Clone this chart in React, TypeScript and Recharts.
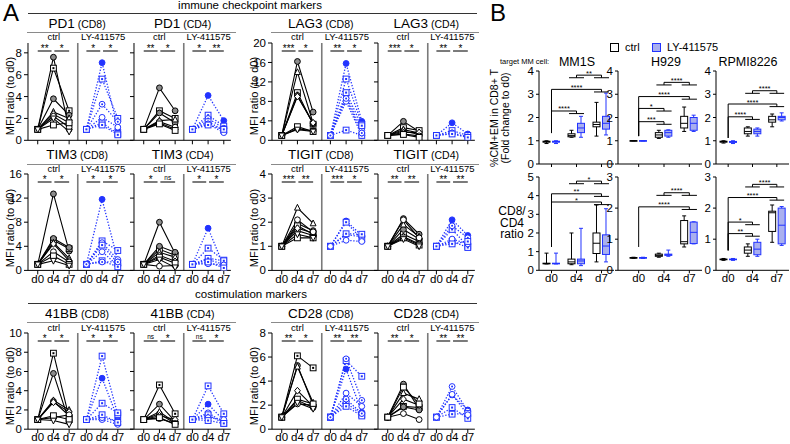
import React from "react";
import { LineChart, Line, XAxis, YAxis, ReferenceLine, ComposedChart, Bar } from "recharts";

const FONT = "'Liberation Sans', Arial, Helvetica, sans-serif";
const BLUE = "#2233ff";
const DAYS = ["d0", "d4", "d7"];

// ---------- panel A data: one triple [d0, d4, d7] per donor ----------
const PD1_TICKS = [0, 2, 4, 6, 8];
const PD1_CD8_CTRL = [[1, 7.6, 1.0], [1, 6.6, 2.7], [1, 3.8, 2.3], [1, 2.6, 2.0], [1, 2.4, 1.6], [1, 2.2, 1.2], [1, 1.4, 1.6], [1, 2.0, 0.8]];
const PD1_CD8_LY = [[1, 7.1, 1.0], [1, 5.6, 2.0], [1, 3.3, 1.7], [1, 1.6, 0.6], [1, 2.1, 1.2], [1, 1.4, 0.5]];
const PD1_CD4_CTRL = [[1, 4.8, 2.7], [1, 2.7, 2.0], [1, 2.5, 1.6], [1, 1.8, 1.9], [1, 1.6, 1.0], [1, 1.7, 1.2], [1, 1.5, 0.9]];
const PD1_CD4_LY = [[1, 4.1, 1.8], [1, 2.3, 1.3], [1, 2.0, 1.1], [1, 1.7, 0.9], [1, 1.5, 0.7], [1, 1.4, 1.0]];
const PD1_CD8_SIG = ["**", "*", "*", "*"];
const PD1_CD4_SIG = ["**", "*", "*", "**"];

const LAG3_TICKS = [0, 4, 8, 12, 16, 20];
const LAG3_CD8_CTRL = [[1, 16.2, 5.8], [1, 9.8, 3.3], [1, 9.2, 3.4], [1, 14.0, 3.5], [1, 9.0, 3.6], [1, 2.4, 1.9], [1, 2.8, 1.8], [1, 2.2, 1.8]];
const LAG3_CD8_LY = [[1, 15.8, 3.9], [1, 12.6, 3.3], [1, 9.2, 2.0], [1, 9.8, 3.0], [1, 8.0, 1.0], [1, 2.1, 1.0], [1, 8.6, 1.5]];
const LAG3_CD4_CTRL = [[1, 3.9, 1.8], [1, 2.6, 2.0], [1, 1.9, 1.2], [1, 2.2, 1.5], [1, 1.6, 1.6], [1, 1.3, 0.9], [1, 1.2, 0.6]];
const LAG3_CD4_LY = [[1, 3.6, 1.3], [1, 2.0, 1.0], [1, 1.5, 0.7], [1, 1.3, 0.6]];
const LAG3_CD8_SIG = ["***", "*", "**", "*"];
const LAG3_CD4_SIG = ["***", "*", "**", "*"];

const TIM3_TICKS = [0, 4, 8, 12, 16];
const TIM3_CD8_CTRL = [[1, 12.7, 3.2], [1, 5.0, 3.6], [1, 5.3, 3.8], [1, 4.6, 2.0], [1, 4.4, 1.6], [1, 3.1, 1.4], [1, 2.4, 1.0], [1, 1.6, 0.8]];
const TIM3_CD8_LY = [[1, 11.8, 1.6], [1, 4.9, 3.3], [1, 4.6, 1.8], [1, 4.2, 1.2], [1, 3.1, 0.8], [1, 1.6, 0.6], [1, 1.4, 1.4]];
const TIM3_CD4_CTRL = [[1, 8.0, 2.8], [1, 3.5, 2.5], [1, 4.0, 3.0], [1, 3.0, 2.2], [1, 2.5, 1.5], [1, 0.7, 0.8], [1, 2.2, 1.2], [1, 1.8, 0.5]];
const TIM3_CD4_LY = [[1, 7.0, 0.7], [1, 3.7, 1.7], [1, 1.8, 1.0], [1, 2.0, 1.6], [1, 1.1, 0.9], [1, 1.4, 0.4]];
const TIM3_CD8_SIG = ["*", "*", "*", "*"];
const TIM3_CD4_SIG = ["*", "ns", "*", "*"];

const TIGIT_TICKS = [0, 1, 2, 3, 4];
const TIGIT_CD8_CTRL = [[1, 1.95, 1.65], [1, 1.85, 1.5], [1, 1.65, 1.45], [1, 2.6, 1.95], [1, 1.75, 1.55], [1, 2.1, 1.6], [1, 1.35, 1.35], [1, 1.5, 1.35]];
const TIGIT_CD8_LY = [[1, 2.05, 1.45], [1, 2.0, 1.3], [1, 1.48, 1.4], [1, 1.52, 1.5], [1, 1.25, 1.2]];
const TIGIT_CD4_CTRL = [[1, 2.15, 1.5], [1, 1.5, 1.2], [1, 1.7, 1.3], [1, 1.9, 1.4], [1, 1.4, 1.1], [1, 2.1, 1.35], [1, 1.35, 1.05], [1, 1.3, 1.0]];
const TIGIT_CD4_LY = [[1, 2.1, 1.45], [1, 1.7, 1.0], [1, 1.85, 1.35], [1, 1.2, 0.95], [1, 1.3, 1.1], [1, 1.1, 1.2]];
const TIGIT_CD8_SIG = ["***", "**", "***", "*"];
const TIGIT_CD4_SIG = ["**", "**", "**", "**"];

const BB41_TICKS = [0, 2, 4, 6, 8, 10];
const BB41_CD8_CTRL = [[1, 5.8, 0.8], [1, 7.9, 1.2], [1, 2.9, 1.4], [1, 3.0, 2.0], [1, 2.8, 1.8], [1, 1.2, 1.5], [1, 1.4, 1.0], [1, 0.9, 0.5]];
const BB41_CD8_LY = [[1, 5.3, 1.1], [1, 7.6, 1.5], [1, 1.0, 0.5], [1, 2.7, 1.7], [1, 1.2, 0.8], [1, 1.5, 0.7]];
const BB41_CD4_CTRL = [[1, 2.6, 0.8], [1, 4.6, 1.6], [1, 1.6, 0.6], [1, 1.8, 0.7], [1, 1.4, 1.0], [1, 1.1, 0.6], [1, 1.2, 0.5]];
const BB41_CD4_LY = [[1, 2.6, 0.9], [1, 4.5, 1.6], [1, 1.7, 0.7], [1, 1.5, 0.6], [1, 1.2, 1.0], [1, 0.9, 0.6]];
const BB41_CD8_SIG = ["*", "*", "*", "*"];
const BB41_CD4_SIG = ["ns", "*", "ns", "*"];

const CD28_TICKS = [0, 2, 4, 6, 8];
const CD28_CD8_CTRL = [[1, 5.3, 2.0], [1, 6.1, 5.1], [1, 2.4, 1.8], [1, 5.2, 2.2], [1, 3.2, 1.9], [1, 2.1, 2.0], [1, 2.5, 2.1], [1, 2.2, 1.7]];
const CD28_CD8_LY = [[1, 5.0, 1.4], [1, 5.7, 4.4], [1, 5.85, 2.4], [1, 2.2, 1.2], [1, 3.0, 1.9], [1, 1.9, 1.1], [1, 2.5, 1.3]];
const CD28_CD4_CTRL = [[1, 3.75, 1.7], [1, 1.9, 1.8], [1, 1.85, 1.6], [1, 3.0, 2.5], [1, 2.5, 2.0], [1, 1.3, 0.8], [1, 3.5, 2.1]];
const CD28_CD4_LY = [[1, 2.85, 1.6], [1, 1.8, 0.9], [1, 3.55, 1.5], [1, 1.25, 1.3], [1, 2.9, 1.2]];
const CD28_CD8_SIG = ["**", "*", "**", "**"];
const CD28_CD4_SIG = ["**", "*", "**", "**"];

const CTRL_SHAPES = ["gc", "sq", "gc", "tri", "dia", "oc", "osq", "trd"];
const LY_SHAPES = ["fc", "sq", "dc", "sq", "oc", "sq", "dc"];

// ---------- panel B data: [min, q1, median, q3, max] for d0, d4, d7 ----------
const MM1S_PCT_CTRL = [[0.88, 0.94, 0.96, 0.98, 1.0], [1.15, 1.17, 1.22, 1.3, 1.45], [1.2, 1.6, 1.7, 1.8, 2.65]];
const MM1S_PCT_LY = [[0.88, 0.94, 0.96, 0.98, 1.0], [1.15, 1.35, 1.55, 1.75, 2.05], [1.25, 1.5, 1.75, 2.05, 3.05]];
const H929_PCT_CTRL = [[0.99, 0.995, 1.0, 1.005, 1.01], [1.1, 1.15, 1.25, 1.35, 1.45], [1.4, 1.55, 1.75, 2.05, 2.45]];
const H929_PCT_LY = [[0.99, 0.995, 1.0, 1.005, 1.01], [1.15, 1.2, 1.35, 1.45, 1.47], [1.4, 1.45, 1.75, 2.0, 2.1]];
const RPMI_PCT_CTRL = [[0.9, 0.94, 0.96, 0.98, 1.0], [1.2, 1.3, 1.4, 1.55, 1.6], [1.6, 1.8, 1.9, 2.05, 2.15]];
const RPMI_PCT_LY = [[0.88, 0.93, 0.95, 0.97, 1.0], [1.2, 1.3, 1.4, 1.5, 1.55], [1.85, 1.9, 2.0, 2.05, 2.2]];

const MM1S_RATIO_CTRL = [[0.34, 0.35, 0.36, 0.38, 0.92], [0.3, 0.35, 0.45, 0.6, 2.0], [0.45, 0.9, 1.45, 2.0, 3.5]];
const MM1S_RATIO_LY = [[0.34, 0.35, 0.36, 0.38, 0.92], [0.25, 0.35, 0.5, 0.6, 2.25], [0.45, 0.85, 1.3, 1.9, 3.3]];
const H929_RATIO_CTRL = [[0.38, 0.39, 0.4, 0.41, 0.42], [0.42, 0.45, 0.48, 0.52, 0.55], [0.75, 0.85, 0.92, 1.6, 1.75]];
const H929_RATIO_LY = [[0.38, 0.39, 0.4, 0.41, 0.42], [0.45, 0.48, 0.5, 0.52, 0.65], [0.85, 0.86, 1.22, 1.55, 1.56]];
const RPMI_RATIO_CTRL = [[0.32, 0.34, 0.35, 0.36, 0.38], [0.45, 0.55, 0.65, 0.75, 0.85], [0.9, 1.25, 1.85, 1.9, 2.1]];
const RPMI_RATIO_LY = [[0.32, 0.34, 0.35, 0.36, 0.38], [0.45, 0.5, 0.68, 0.9, 1.0], [0.8, 0.85, 1.45, 2.0, 2.05]];

// brackets: [from, to, y, label, y0]; from = -1 means "pair" bracket between groups to-1 and to
const MM1S_PCT_SIG: any[] = [[0, 1, 2.28, "****", 1.33], [0, 2, 3.21, "****", 1.33], [-1, 2, 3.71, "**", 1]];
const H929_PCT_SIG: any[] = [[0, 1, 1.82, "***", 1.2], [0, 1, 2.39, "*", 1.2], [0, 2, 2.9, "****", 1.2], [-1, 2, 3.4, "****", 1]];
const RPMI_PCT_SIG: any[] = [[0, 1, 2.03, "****", 1.12], [0, 2, 2.58, "****", 1.12], [-1, 2, 3.04, "****", 1]];
const MM1S_RATIO_SIG: any[] = [[0, 2, 3.66, "*", 1.25], [0, 2, 4.1, "**", 1.25], [-1, 2, 4.64, "*", 1]];
const H929_RATIO_SIG: any[] = [[0, 2, 2.04, "****", 0.75], [-1, 2, 2.41, "****", 1]];
const RPMI_RATIO_SIG: any[] = [[0, 1, 1.18, "**", 0.64], [0, 1, 1.55, "*", 0.64], [0, 2, 2.34, "****", 0.64], [-1, 2, 2.68, "****", 1]];

// ---------- helpers ----------
const PX = 15.7;
const X_MIN = -0.62;
const X_CTRL = [0, 1, 2];
const X_LY = [3.1, 4.1, 5.1];
const TICK_POS = [...X_CTRL, ...X_LY];
const DIVIDER = 2.55;

function buildRows(ctrl: number[][], ly: number[][]) {
  const rows: any[] = [];
  X_CTRL.forEach((x, i) => {
    const r: any = { x };
    ctrl.forEach((d, k) => (r["c" + k] = d[i]));
    rows.push(r);
  });
  X_LY.forEach((x, i) => {
    const r: any = { x };
    ly.forEach((d, k) => (r["l" + k] = d[i]));
    rows.push(r);
  });
  return rows;
}

function marker(shape: string, color: string) {
  return (p: any) => {
    const { cx, cy, index, dataKey } = p;
    const key = `${dataKey}-${index}`;
    if (cx == null || cy == null || Number.isNaN(cy)) return <g key={key} />;
    const s = 2.9;
    const common = { stroke: color, strokeWidth: 1 };
    switch (shape) {
      case "gc":
        return <circle key={key} cx={cx} cy={cy} r={s} fill="#8c8c8c" {...common} />;
      case "fc":
        return <circle key={key} cx={cx} cy={cy} r={s} fill={color} {...common} />;
      case "oc":
        return <circle key={key} cx={cx} cy={cy} r={s} fill="#fff" {...common} />;
      case "dc":
        return (
          <g key={key}>
            <circle cx={cx} cy={cy} r={s} fill="#fff" {...common} />
            <circle cx={cx} cy={cy} r={1} fill={color} />
          </g>
        );
      case "sq":
        return (
          <g key={key}>
            <rect x={cx - s} y={cy - s} width={2 * s} height={2 * s} fill="#fff" {...common} />
            <rect x={cx - 1} y={cy - 1} width={2} height={2} fill={color} />
          </g>
        );
      case "osq":
        return <rect key={key} x={cx - s} y={cy - s} width={2 * s} height={2 * s} fill="#fff" {...common} />;
      case "tri":
        return <polygon key={key} points={`${cx},${cy - s - 0.5} ${cx - s},${cy + s - 0.5} ${cx + s},${cy + s - 0.5}`} fill="#fff" {...common} />;
      case "trd":
        return <polygon key={key} points={`${cx},${cy + s + 0.5} ${cx - s},${cy - s + 0.5} ${cx + s},${cy - s + 0.5}`} fill="#fff" {...common} />;
      default:
        return <polygon key={key} points={`${cx},${cy - s - 0.5} ${cx + s},${cy} ${cx},${cy + s + 0.5} ${cx - s},${cy}`} fill="#fff" {...common} />;
    }
  };
}

function Txt({ x, y, size = 11, children, anchor = "middle", color = "#000", lh }: any) {
  const tx = anchor === "middle" ? "-50%" : anchor === "end" ? "-100%" : "0";
  return (
    <div
      style={{
        position: "absolute",
        left: x,
        top: y,
        transform: `translate(${tx}, -50%)`,
        fontSize: size,
        color,
        whiteSpace: "pre",
        lineHeight: lh ? `${lh}px` : "1",
        textAlign: "center",
      }}
    >
      {children}
    </div>
  );
}

function RotTxt({ x, y, size = 11, children, lh }: any) {
  return (
    <div
      style={{
        position: "absolute",
        left: x,
        top: y,
        transform: "translate(-50%, -50%) rotate(-90deg)",
        fontSize: size,
        whiteSpace: "pre",
        lineHeight: lh ? `${lh}px` : "1",
        textAlign: "center",
      }}
    >
      {children}
    </div>
  );
}

function AChart({ axisX, plotTop, plotH, yMax, ticks, xMax, ctrl, ly, sig, showY, showX }: any) {
  const yW = showY ? 24 : 5;
  const MT = 8;
  const plotW = (xMax - X_MIN) * PX;
  const rows = buildRows(ctrl, ly);
  const ySig = yMax * (1 - 8 / plotH);
  const segs = [
    [X_CTRL[0], X_CTRL[0] + 0.88, sig[0]],
    [X_CTRL[1] + 0.06, X_CTRL[2], sig[1]],
    [X_LY[0], X_LY[0] + 0.88, sig[2]],
    [X_LY[1] + 0.06, X_LY[2], sig[3]],
  ];
  const axisStyle = { fill: "#000", fontSize: 11.5, fontFamily: FONT };
  return (
    <div style={{ position: "absolute", left: axisX - yW, top: plotTop - MT }}>
      <LineChart width={yW + plotW + 2} height={MT + plotH + 15} data={rows} margin={{ top: MT, right: 2, bottom: 0, left: 0 }}>
        <XAxis
          dataKey="x"
          type="number"
          domain={[X_MIN, xMax]}
          ticks={TICK_POS}
          allowDataOverflow
          height={15}
          tickSize={4}
          tickMargin={0}
          stroke="#000"
          tick={axisStyle}
          interval={0}
          tickFormatter={(v: number) => (showX ? DAYS[TICK_POS.indexOf(v) % 3] : "")}
        />
        <YAxis
          type="number"
          domain={[0, yMax]}
          ticks={ticks}
          allowDataOverflow
          width={yW}
          tickSize={4}
          stroke="#000"
          tick={axisStyle}
          interval={0}
          tickFormatter={(v: number) => (showY ? String(v) : "")}
        />
        <ReferenceLine x={DIVIDER} stroke="#7a7a7a" strokeWidth={1.6} />
        {segs.map((s, i) => (
          <ReferenceLine
            key={"sig" + i}
            segment={[{ x: s[0], y: ySig }, { x: s[1], y: ySig }]}
            stroke="#222"
            strokeWidth={1.2}
            label={{ value: s[2], position: "top", offset: s[2] === "ns" ? 1.5 : -1, fontSize: s[2] === "ns" ? 6.5 : 10, fill: "#000", fontFamily: FONT }}
          />
        ))}
        {ctrl.map((_: any, k: number) => (
          <Line
            key={"c" + k}
            dataKey={"c" + k}
            stroke="#000"
            strokeWidth={1.1}
            dot={marker(CTRL_SHAPES[k % CTRL_SHAPES.length], "#000")}
            activeDot={false}
            isAnimationActive={false}
          />
        ))}
        {ly.map((_: any, k: number) => (
          <Line
            key={"l" + k}
            dataKey={"l" + k}
            stroke={BLUE}
            strokeWidth={1.3}
            strokeDasharray="1.3 1.7"
            dot={marker(LY_SHAPES[k % LY_SHAPES.length], BLUE)}
            activeDot={false}
            isAnimationActive={false}
          />
        ))}
      </LineChart>
    </div>
  );
}

function APair({ axisX, row, name, yMax, ticks, cd8, cd4, showX }: any) {
  const leftW = (6.1 - X_MIN) * PX;
  const rightX = axisX + leftW;
  const subs = [
    { ax: axisX, xMax: 6.1, cell: "(CD8)", d: cd8, showY: true },
    { ax: rightX, xMax: 5.55, cell: "(CD4)", d: cd4, showY: false },
  ];
  const rightEnd = rightX + (5.55 - X_MIN) * PX;
  return (
    <>
      {subs.map((s, i) => (
        <React.Fragment key={i}>
          <Txt x={s.ax + (DIVIDER - X_MIN) * PX - 1} y={row.titleY} size={13.5}>
            {name}
            <span style={{ fontSize: 10.5 }}> {s.cell}</span>
          </Txt>
          <Txt x={s.ax + (1 - X_MIN) * PX} y={row.groupY} size={9.5}>ctrl</Txt>
          <Txt x={s.ax + (4.15 - X_MIN) * PX} y={row.groupY} size={9.5}>LY-411575</Txt>
          <AChart
            axisX={s.ax}
            plotTop={row.top}
            plotH={row.h}
            yMax={yMax}
            ticks={ticks}
            xMax={s.xMax}
            ctrl={s.d[0]}
            ly={s.d[1]}
            sig={s.d[2]}
            showY={s.showY}
            showX={showX}
          />
        </React.Fragment>
      ))}
      <div style={{ position: "absolute", left: axisX - 1, width: rightEnd - axisX + 6, top: row.lineY, height: 0, borderTop: "1.2px solid #8a8a8a" }} />
      <RotTxt x={axisX - 18} y={row.top + row.h / 2 + 5} size={11}>MFI ratio (to d0)</RotTxt>
    </>
  );
}

function BoxShape(p: any) {
  const { x, y, width, height, stats, stroke, fill } = p;
  if (x == null || y == null || !stats) return <g />;
  const [mn, q1, md, q3, mx] = stats;
  const ppu = mx > mn ? height / (mx - mn) : 0;
  const py = (v: number) => y + (mx - v) * ppu;
  const cx = x + width / 2;
  const boxH = Math.max(py(q1) - py(q3), 0.6);
  return (
    <g>
      <line x1={cx} x2={cx} y1={py(mx)} y2={py(mn)} stroke={stroke} strokeWidth={1} />
      <line x1={cx - 2} x2={cx + 2} y1={py(mx)} y2={py(mx)} stroke={stroke} strokeWidth={1} />
      <line x1={cx - 2} x2={cx + 2} y1={py(mn)} y2={py(mn)} stroke={stroke} strokeWidth={1} />
      <rect x={x} y={py(q3)} width={width} height={boxH} fill={fill} stroke={stroke} strokeWidth={1} />
      <line x1={x} x2={x + width} y1={py(md)} y2={py(md)} stroke={stroke} strokeWidth={1} />
    </g>
  );
}

function BChart({ axisX, plotTop, plotH, plotW, padL, yMax, ticks, ctrl, ly, sig, showX }: any) {
  const yW = 14;
  const MT = 8;
  const rows = DAYS.map((d, i) => ({ day: d, x: i, ctrl: ctrl[i], ly: ly[i] }));
  const drop = (yMax * 2.6) / plotH;
  const half = 0.3;
  const style = { fill: "#000", fontSize: 11.5, fontFamily: FONT };
  const els: any[] = [];
  sig.forEach((b: any[], i: number) => {
    const [from, to, yv, label, y0] = b;
    const lab = { value: label, position: "top", offset: -0.5, fontSize: 7.5, fill: "#000", fontFamily: FONT };
    if (from >= 0) {
      els.push(<ReferenceLine key={`v${i}`} xAxisId="n" segment={[{ x: from, y: y0 }, { x: from, y: yv }]} stroke="#000" />);
      els.push(<ReferenceLine key={`h${i}`} xAxisId="n" segment={[{ x: from, y: yv }, { x: to, y: yv }]} stroke="#000" label={lab} />);
      els.push(<ReferenceLine key={`d${i}`} xAxisId="n" segment={[{ x: to, y: yv }, { x: to, y: yv - drop }]} stroke="#000" />);
      els.push(<ReferenceLine key={`c${i}`} xAxisId="n" segment={[{ x: to - half, y: yv - drop }, { x: to + half, y: yv - drop }]} stroke="#000" />);
    } else {
      const a = to - 1;
      const yj = yv + drop;
      [a, to].forEach((g) => {
        els.push(<ReferenceLine key={`c${i}${g}`} xAxisId="n" segment={[{ x: g - half, y: yv }, { x: g + half, y: yv }]} stroke="#000" />);
        els.push(<ReferenceLine key={`s${i}${g}`} xAxisId="n" segment={[{ x: g, y: yv }, { x: g, y: yj }]} stroke="#000" />);
      });
      els.push(<ReferenceLine key={`j${i}`} xAxisId="n" segment={[{ x: a, y: yj }, { x: to, y: yj }]} stroke="#000" label={lab} />);
    }
  });
  return (
    <div style={{ position: "absolute", left: axisX - yW, top: plotTop - MT }}>
      <ComposedChart
        width={yW + plotW + 2}
        height={MT + plotH + 17}
        data={rows}
        margin={{ top: MT, right: 2, bottom: 0, left: 0 }}
        barSize={7}
        barGap={2.5}
      >
        <XAxis
          dataKey="day"
          type="category"
          padding={{ left: padL, right: 0 }}
          height={17}
          tickSize={3}
          tickMargin={1}
          stroke="#000"
          tick={style}
          interval={0}
          tickFormatter={(v: string) => (showX ? v : "")}
        />
        <XAxis
          xAxisId="n"
          dataKey="x"
          type="number"
          domain={[-0.5, 2.5]}
          ticks={[0, 1, 2]}
          padding={{ left: padL, right: 0 }}
          hide
          allowDataOverflow
        />
        <YAxis type="number" domain={[0, yMax]} ticks={ticks} width={yW} tickSize={3} stroke="#000" tick={style} interval={0} allowDataOverflow />
        <Bar
          dataKey={(r: any) => [r.ctrl[0], r.ctrl[4]]}
          isAnimationActive={false}
          shape={(p: any) => <BoxShape {...p} stats={p.payload && p.payload.ctrl} stroke="#000" fill="#fff" />}
        />
        <Bar
          dataKey={(r: any) => [r.ly[0], r.ly[4]]}
          isAnimationActive={false}
          shape={(p: any) => <BoxShape {...p} stats={p.payload && p.payload.ly} stroke={BLUE} fill="#a9afef" />}
        />
        {els}
      </ComposedChart>
    </div>
  );
}

const ROW_A = [
  { top: 42.7, h: 97.3, titleY: 24, lineY: 32, groupY: 37 },
  { top: 174.3, h: 96.4, titleY: 155, lineY: 164, groupY: 169 },
  { top: 333.3, h: 96.2, titleY: 314, lineY: 322, groupY: 328 },
];

export default function App() {
  const pairs = [
    { axisX: 28.3, row: ROW_A[0], name: "PD1", yMax: 8.9, ticks: PD1_TICKS, cd8: [PD1_CD8_CTRL, PD1_CD8_LY, PD1_CD8_SIG], cd4: [PD1_CD4_CTRL, PD1_CD4_LY, PD1_CD4_SIG], showX: false },
    { axisX: 272, row: ROW_A[0], name: "LAG3", yMax: 20, ticks: LAG3_TICKS, cd8: [LAG3_CD8_CTRL, LAG3_CD8_LY, LAG3_CD8_SIG], cd4: [LAG3_CD4_CTRL, LAG3_CD4_LY, LAG3_CD4_SIG], showX: false },
    { axisX: 28.3, row: ROW_A[1], name: "TIM3", yMax: 16, ticks: TIM3_TICKS, cd8: [TIM3_CD8_CTRL, TIM3_CD8_LY, TIM3_CD8_SIG], cd4: [TIM3_CD4_CTRL, TIM3_CD4_LY, TIM3_CD4_SIG], showX: true },
    { axisX: 272, row: ROW_A[1], name: "TIGIT", yMax: 4, ticks: TIGIT_TICKS, cd8: [TIGIT_CD8_CTRL, TIGIT_CD8_LY, TIGIT_CD8_SIG], cd4: [TIGIT_CD4_CTRL, TIGIT_CD4_LY, TIGIT_CD4_SIG], showX: true },
    { axisX: 28.3, row: ROW_A[2], name: "41BB", yMax: 10, ticks: BB41_TICKS, cd8: [BB41_CD8_CTRL, BB41_CD8_LY, BB41_CD8_SIG], cd4: [BB41_CD4_CTRL, BB41_CD4_LY, BB41_CD4_SIG], showX: true },
    { axisX: 272, row: ROW_A[2], name: "CD28", yMax: 8, ticks: CD28_TICKS, cd8: [CD28_CD8_CTRL, CD28_CD8_LY, CD28_CD8_SIG], cd4: [CD28_CD4_CTRL, CD28_CD4_LY, CD28_CD4_SIG], showX: true },
  ];
  const bTop = { top: 71, h: 93 };
  const bBot = { top: 176.7, h: 93.3 };
  const bCharts = [
    { axisX: 539, plotW: 75, padL: 0, r: bTop, yMax: 4, ticks: [0, 1, 2, 3, 4], ctrl: MM1S_PCT_CTRL, ly: MM1S_PCT_LY, sig: MM1S_PCT_SIG, showX: false },
    { axisX: 618, plotW: 84, padL: 8, r: bTop, yMax: 4, ticks: [0, 1, 2, 3, 4], ctrl: H929_PCT_CTRL, ly: H929_PCT_LY, sig: H929_PCT_SIG, showX: false },
    { axisX: 716, plotW: 73, padL: 0, r: bTop, yMax: 4, ticks: [0, 1, 2, 3, 4], ctrl: RPMI_PCT_CTRL, ly: RPMI_PCT_LY, sig: RPMI_PCT_SIG, showX: false },
    { axisX: 539, plotW: 75, padL: 0, r: bBot, yMax: 5, ticks: [0, 1, 2, 3, 4, 5], ctrl: MM1S_RATIO_CTRL, ly: MM1S_RATIO_LY, sig: MM1S_RATIO_SIG, showX: true },
    { axisX: 618, plotW: 84, padL: 8, r: bBot, yMax: 3, ticks: [0, 1, 2, 3], ctrl: H929_RATIO_CTRL, ly: H929_RATIO_LY, sig: H929_RATIO_SIG, showX: true },
    { axisX: 716, plotW: 73, padL: 0, r: bBot, yMax: 3, ticks: [0, 1, 2, 3], ctrl: RPMI_RATIO_CTRL, ly: RPMI_RATIO_LY, sig: RPMI_RATIO_SIG, showX: true },
  ];
  return (
    <div style={{ position: "absolute", left: 0, top: 0, width: 790, height: 444, background: "#fff", fontFamily: FONT, overflow: "hidden" }}>
      <Txt x={3} y={13} size={24} anchor="start">A</Txt>
      <Txt x={490} y={13} size={24} anchor="start">B</Txt>

      <Txt x={250} y={5.5} size={11.5}>immune checkpoint markers</Txt>
      <div style={{ position: "absolute", left: 28, width: 449, top: 12.5, borderTop: "1.2px solid #333" }} />
      <Txt x={251} y={295} size={11.5}>costimulation markers</Txt>
      <div style={{ position: "absolute", left: 28, width: 449, top: 303, borderTop: "1.2px solid #333" }} />

      {pairs.map((p, i) => (
        <APair key={i} {...p} />
      ))}

      {/* legend B */}
      <div style={{ position: "absolute", left: 610, top: 43, width: 7, height: 7, border: "1.2px solid #000", background: "#fff" }} />
      <Txt x={625} y={47} size={11} anchor="start">ctrl</Txt>
      <div style={{ position: "absolute", left: 652, top: 43, width: 7, height: 7, border: `1.2px solid ${BLUE}`, background: "#a9afef" }} />
      <Txt x={667} y={47} size={11} anchor="start">LY-411575</Txt>

      <Txt x={500} y={62} size={7.5} anchor="start">target MM cell:</Txt>
      <Txt x={577} y={62} size={12.5}>MM1S</Txt>
      <Txt x={666} y={62} size={12.5}>H929</Txt>
      <Txt x={748} y={62} size={12.5}>RPMI8226</Txt>

      <RotTxt x={500} y={118} size={10.5} lh={11}>{"%CM+EM in CD8+ T\n(Fold change to d0)"}</RotTxt>
      <Txt x={512} y={223} size={12} lh={11.5}>{"CD8/\nCD4\nratio"}</Txt>

      {bCharts.map((b, i) => (
        <BChart key={i} axisX={b.axisX} plotTop={b.r.top} plotH={b.r.h} plotW={b.plotW} padL={b.padL} yMax={b.yMax} ticks={b.ticks} ctrl={b.ctrl} ly={b.ly} sig={b.sig} showX={b.showX} />
      ))}
    </div>
  );
}
